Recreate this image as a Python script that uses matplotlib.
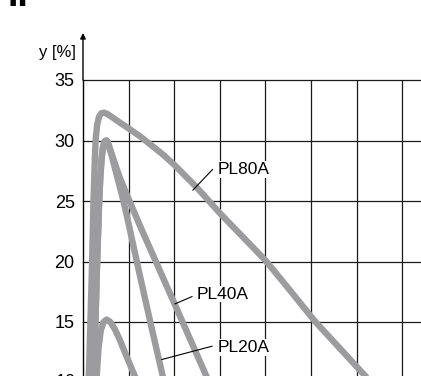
import matplotlib
matplotlib.use("Agg")
import matplotlib.pyplot as plt

plt.rcParams['font.family'] = ['Liberation Sans Narrow', 'Liberation Sans', 'DejaVu Sans']

# curves (x in grid units, y in %)
pl80a_x = [0.10, 0.14, 0.17, 0.20, 0.23, 0.26, 0.28, 0.31, 0.35, 0.40, 0.46, 0.53, 0.65, 0.80, 1.0,
           1.25, 1.5, 1.75, 2.0, 2.25, 2.5, 2.75, 3.0, 3.5, 4.0, 4.5, 5.1, 6.2, 6.8]
pl80a_y = [8.0, 12.0, 16.0, 20.0, 25.0, 28.5, 30.2, 31.3, 31.95, 32.25, 32.3, 32.2, 31.9, 31.5, 31.0,
           30.35, 29.6, 28.85, 28.0, 27.05, 26.1, 25.05, 24.0, 22.05, 20.1, 17.8, 15.0, 10.5, 8.0]

pl40a_x = [0.22, 0.25, 0.28, 0.31, 0.35, 0.38, 0.41, 0.44, 0.48, 0.52, 0.56, 0.62, 0.70, 0.80, 0.92,
           1.03, 1.29, 1.55, 1.82, 2.02, 2.72, 3.0]
pl40a_y = [8.0, 12.0, 16.0, 20.0, 24.5, 27.0, 28.6, 29.5, 29.95, 30.0, 29.7, 29.0, 28.1, 27.0, 25.9,
           24.9, 22.6, 20.4, 18.1, 16.4, 10.4, 8.0]

pl20a_x = [0.22, 0.25, 0.28, 0.31, 0.35, 0.38, 0.41, 0.44, 0.48, 0.52, 0.56, 0.62, 0.70, 0.79, 0.88,
           0.96, 1.03, 1.14, 1.25, 1.50, 1.75, 1.90]
pl20a_y = [8.0, 12.0, 16.0, 20.0, 24.5, 27.0, 28.6, 29.5, 29.95, 30.0, 29.6, 28.9, 27.7, 26.4, 25.1,
           23.8, 22.6, 20.7, 18.8, 14.6, 10.5, 8.0]

pl10a_x = [0.27, 0.30, 0.34, 0.39, 0.45, 0.52, 0.60, 0.70, 0.81, 0.95, 1.14, 1.35]
pl10a_y = [8.0, 10.5, 12.8, 14.3, 15.0, 15.2, 15.0, 14.4, 13.5, 12.2, 10.5, 8.5]

y_ticks = [15, 20, 25, 30, 35]
x_grid = [1, 2, 3, 4, 5, 6, 7]

labels = ["PL80A", "PL40A", "PL20A"]
label_pos = [(2.96, 27.6), (2.50, 17.3), (2.96, 12.9)]
leader_from = [(2.84, 27.6), (2.39, 17.1), (2.83, 13.0)]
leader_to = [(2.41, 25.9), (2.02, 16.5), (1.73, 11.9)]

curve_color = "#9c9c9e"
grid_color = "#1a1a1a"

fig = plt.figure(figsize=(4.21, 3.76), dpi=100)
ax = fig.add_axes([83 / 421, 0.0, 1 - 83 / 421, 1 - 80 / 376])
ax.set_xlim(0, 338 / 45.6)
ax.set_ylim(35 - 296 / 12.1, 35)

for xv in x_grid:
    ax.axvline(xv, color=grid_color, lw=0.9, zorder=1)
for yv in y_ticks:
    ax.axhline(yv, color=grid_color, lw=0.9, zorder=1, clip_on=False)

for xs, ys in [(pl80a_x, pl80a_y), (pl40a_x, pl40a_y), (pl20a_x, pl20a_y), (pl10a_x, pl10a_y)]:
    ax.plot(xs, ys, color=curve_color, lw=4.6, solid_joinstyle='round',
            solid_capstyle='round', zorder=3)

for name, (tx, ty), (x0, y0), (x1, y1) in zip(labels, label_pos, leader_from, leader_to):
    ax.plot([x0, x1], [y0, y1], color="black", lw=0.8, zorder=4)
    ax.text(tx, ty, name, fontsize=12.5, va='center', ha='left', zorder=5,
            bbox=dict(facecolor='white', edgecolor='none', pad=0.5))

for s in ['top', 'right', 'bottom']:
    ax.spines[s].set_visible(False)
ax.spines['left'].set_color('black')
ax.spines['left'].set_linewidth(1.0)
ax.spines['left'].set_zorder(2)

ax.set_xticks([])
ax.set_yticks(y_ticks)
ax.tick_params(axis='y', length=0, pad=6, labelsize=13)
# partly visible label below the crop
ax.text(-0.15, 10, "10", fontsize=13, ha='right', va='center', clip_on=False)

# y axis arrow
ax.annotate("", xy=(0, 1 + 47 / 296), xytext=(0, 1), xycoords='axes fraction',
            arrowprops=dict(arrowstyle='-|>', color='black', lw=1.0,
                            mutation_scale=8, shrinkA=0, shrinkB=0))
fig.text(76 / 421, 1 - 53 / 376, "y [%]", fontsize=12, ha='right', va='center')

# top of a heading cut off by the frame
fig.text(8 / 421, 1 - 6 / 376, "II", fontsize=27, weight='bold', ha='left', va='baseline')

fig.savefig("out.png", dpi=100)
